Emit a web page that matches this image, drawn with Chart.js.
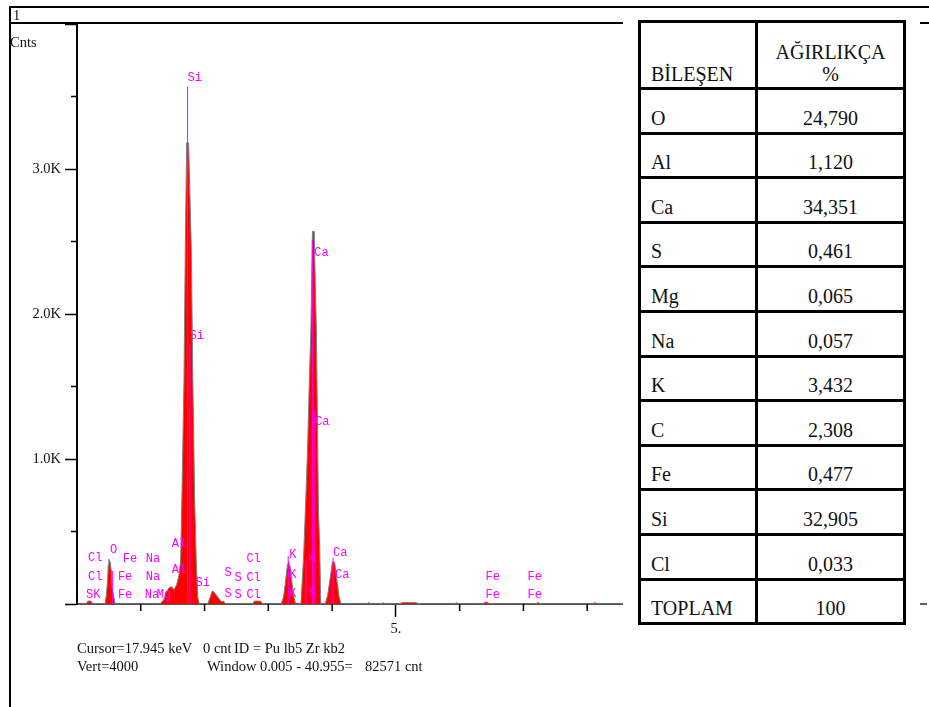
<!DOCTYPE html>
<html>
<head>
<meta charset="utf-8">
<script src="https://cdn.jsdelivr.net/npm/chart.js@4.4.1/dist/chart.umd.min.js"></script>
<style>
  body { margin: 0; width: 929px; height: 707px; overflow: hidden; background: #fff; position: relative;
         font-family: "Liberation Serif", "Times New Roman", serif; color: #111; }
  #spec { position: absolute; left: 0; top: 0; }
  .hline { position: absolute; height: 0; border-top: 2px solid #000; }
  .vline { position: absolute; width: 0; border-left: 2px solid #000; }
  .txt { position: absolute; font-size: 14.5px; line-height: 16px; white-space: pre; }
  #cover { position: absolute; left: 623px; top: 9px; width: 297px; height: 698px; background: #fff; }
  table { position: absolute; left: 638px; top: 20px; width: 268px; border-collapse: collapse;
          font-size: 20px; line-height: 22px; }
  td { border: 3px solid #000; vertical-align: bottom; padding: 0 0 3px 0; height: 38.6px; }
  td.el { padding-left: 10px; width: 104px; }
  td.val { text-align: center; }
  tr.head td { height: 62px; padding-bottom: 2px; }
</style>
</head>
<body>
<canvas id="spec" width="929" height="707"></canvas>

<div class="hline" style="left:10px; top:6px; width:919px;"></div>
<div class="hline" style="left:10px; top:22px; width:919px;"></div>
<div class="vline" style="left:9px; top:6px; height:701px;"></div>
<div class="txt" style="left:13px; top:7px;">1</div>
<div class="txt" style="left:10px; top:34px;">Cnts</div>
<div class="txt" style="left:77px; top:640px;">Cursor=17.945 keV</div>
<div class="txt" style="left:203px; top:640px;">0 cnt</div>
<div class="txt" style="left:234px; top:640px;">ID = Pu lb5 Zr kb2</div>
<div class="txt" style="left:77px; top:658px;">Vert=4000</div>
<div class="txt" style="left:207px; top:658px;">Window 0.005 - 40.955=</div>
<div class="txt" style="left:365px; top:658px;">82571 cnt</div>

<div id="cover"></div>
<table id="comp"></table>

<script>
// spectrum: energy (keV) against counts
const spectrumKeV = [
  0.00, 0.14, 0.17, 0.22, 0.25,
  0.44, 0.46, 0.48, 0.49, 0.50, 0.52, 0.54, 0.55, 0.58, 0.60,
  1.30, 1.36, 1.40, 1.44, 1.48, 1.52, 1.56, 1.60,
  1.625, 1.645, 1.677, 1.698, 1.719, 1.750, 1.792, 1.817, 1.844, 1.870, 1.895, 1.92,
  2.05, 2.09, 2.125, 2.17, 2.22, 2.27, 2.30, 2.33,
  2.75, 2.78, 2.88, 2.91,
  3.20, 3.24, 3.27, 3.30, 3.32, 3.34, 3.37, 3.40, 3.43,
  3.511, 3.552, 3.578, 3.614, 3.641, 3.667, 3.692, 3.719, 3.755, 3.786, 3.805, 3.823,
  3.89, 3.93, 3.97, 4.005, 4.04, 4.08, 4.11, 4.14,
  4.55, 4.58, 4.61, 4.75, 4.80, 4.84, 5.05, 5.10, 5.30, 5.40,
  5.90, 5.95, 6.00, 6.35, 6.42, 6.48, 7.20, 7.23, 7.26, 8.08, 8.12, 8.16, 13.3
];
const spectrumCounts = [
  0, 0, 20, 20, 0,
  0, 62, 165, 270, 310, 290, 220, 110, 40, 0,
  0, 30, 80, 110, 120, 100, 130, 200,
  300, 740, 1525, 2460, 3180, 3180, 2460, 1525, 740, 300, 40, 0,
  0, 50, 92, 70, 40, 15, 20, 0,
  0, 20, 20, 0,
  0, 50, 160, 270, 290, 260, 150, 50, 0,
  0, 317, 614, 1050, 1510, 1900, 2570, 2570, 1855, 660, 400, 0,
  0, 60, 180, 290, 290, 150, 50, 0,
  0, 10, 0, 0, 8, 0, 0, 10, 10, 0,
  0, 8, 0, 0, 15, 0, 0, 12, 0, 0, 10, 0, 0
];

// element marker lines (keV, height in counts)
const markerKeV = [0.56, 1.734, 1.77, 3.312, 3.59, 3.69, 3.72, 4.015];
const markerTop = [230, 3566, 1790, 330, 300, 2510, 1340, 320];

// peak labels: text, keV, counts
const labelText = ['Cl', 'Cl', 'SK', 'O', 'Fe', 'Fe', 'Fe', 'Na', 'Na', 'Na', 'Mg', 'Al', 'Al', 'Si',
  'S', 'S', 'S', 'S', 'Cl', 'Cl', 'Cl', 'K', 'K', 'K', 'K', 'K', 'Ca', 'Ca',
  'Fe', 'Fe', 'Fe', 'Fe', 'Si', 'Si', 'Ca', 'Ca'];
const labelKeV = [0.172, 0.172, 0.141, 0.516, 0.719, 0.641, 0.641, 1.078, 1.078, 1.063, 1.25, 1.484, 1.484, 1.859,
  2.313, 2.313, 2.469, 2.469, 2.656, 2.656, 2.656, 3.328, 3.328, 3.328, 3.625, 3.625, 4.016, 4.047,
  6.406, 6.406, 7.063, 7.063, 1.734, 1.766, 3.719, 3.734];
const labelCounts = [317, 186, 62, 372, 310, 186, 62, 310, 186, 62, 62, 414, 234, 145,
  214, 69, 179, 62, 310, 179, 62, 338, 200, 69, 310, 83, 352, 200,
  186, 62, 186, 62, 3628, 1848, 2421, 1255];

const xMax = 13.3125;
const xMinorTicks = [1, 2, 3, 4, 6, 7, 8, 9, 10, 11, 12, 13];
const yMinorTicks = [500, 1500, 2500, 3500];

// composition table
const elements = ['O', 'Al', 'Ca', 'S', 'Mg', 'Na', 'K', 'C', 'Fe', 'Si', 'Cl', 'TOPLAM'];
const weights = ['24,790', '1,120', '34,351', '0,461', '0,065', '0,057', '3,432', '2,308', '0,477', '32,905', '0,033', '100'];

const table = document.getElementById('comp');
let rows = '<tr class="head"><td class="el">BİLEŞEN</td><td class="val">AĞIRLIKÇA<br>%</td></tr>';
elements.forEach((el, i) => {
  rows += '<tr><td class="el">' + el + '</td><td class="val">' + weights[i] + '</td></tr>';
});
table.innerHTML = rows;

const markerPoints = [];
markerKeV.forEach((k, i) => {
  markerPoints.push({x: k, y: 0}, {x: k, y: markerTop[i]}, {x: k, y: null});
});

const minorTicks = {
  id: 'minorTicks',
  afterDraw(chart) {
    const {ctx, scales: {x, y}} = chart;
    ctx.save();
    ctx.strokeStyle = '#000';
    ctx.lineWidth = 1.5;
    ctx.beginPath();
    xMinorTicks.forEach(v => {
      const px = x.getPixelForValue(v);
      ctx.moveTo(px, y.bottom);
      ctx.lineTo(px, y.bottom + 7);
    });
    yMinorTicks.forEach(v => {
      const py = y.getPixelForValue(v);
      ctx.moveTo(x.left - 6, py);
      ctx.lineTo(x.left, py);
    });
    ctx.stroke();
    ctx.restore();
  }
};

const peakLabels = {
  id: 'peakLabels',
  afterDatasetsDraw(chart) {
    const {ctx, scales: {x, y}} = chart;
    ctx.save();
    ctx.font = '12px "Liberation Mono", monospace';
    ctx.fillStyle = '#ff00ff';
    ctx.textAlign = 'left';
    ctx.textBaseline = 'middle';
    labelText.forEach((t, i) => {
      ctx.fillText(t, x.getPixelForValue(labelKeV[i]), y.getPixelForValue(labelCounts[i]));
    });
    ctx.restore();
  }
};

const specCtx = document.getElementById('spec').getContext('2d');

const spectrum = new Chart(specCtx, {
  type: 'line',
  data: {
    datasets: [{
      label: 'markers',
      data: markerPoints,
      borderColor: '#ff00ff',
      borderWidth: 1,
      pointRadius: 0,
      fill: false,
      spanGaps: false,
      order: 0
    }, {
      label: 'Cnts',
      data: spectrumKeV.map((k, i) => ({x: k, y: spectrumCounts[i]})),
      borderColor: '#808080',
      backgroundColor: '#ff0000',
      borderWidth: 1,
      fill: 'origin',
      pointRadius: 0,
      tension: 0,
      order: 1
    }]
  },
  options: {
    responsive: false,
    animation: false,
    layout: {
      padding: {top: 24, right: 0, bottom: 0, left: 0}
    },
    scales: {
      x: {
        type: 'linear',
        min: 0,
        max: xMax,
        afterFit: s => { s.height = 103; },
        ticks: {
          stepSize: 1,
          autoSkip: false,
          maxRotation: 0,
          padding: 3,
          color: '#111',
          font: {family: 'Liberation Serif', size: 14.5},
          callback: v => v === 5 ? '5.' : ''
        },
        grid: {
          drawOnChartArea: false,
          tickLength: 13,
          tickWidth: 1.5,
          tickColor: c => (c.tick && c.tick.value === 5) ? '#000' : 'rgba(0,0,0,0)'
        },
        border: {color: '#555', width: 2}
      },
      y: {
        min: 0,
        max: 4000,
        afterFit: s => { s.width = 77; },
        ticks: {
          stepSize: 500,
          padding: 4,
          color: '#111',
          font: {family: 'Liberation Serif', size: 14.5},
          callback: v => (v % 1000 === 0 && v > 0 && v < 4000) ? (v / 1000).toFixed(1) + 'K' : ''
        },
        grid: {
          drawOnChartArea: false,
          tickLength: 12,
          tickWidth: 1.5,
          tickColor: c => (c.tick && c.tick.value % 1000 === 0) ? '#000' : 'rgba(0,0,0,0)'
        },
        border: {color: '#000', width: 2}
      }
    },
    plugins: {
      legend: {display: false},
      tooltip: {enabled: false}
    }
  },
  plugins: [minorTicks, peakLabels]
});
</script>
</body>
</html>
